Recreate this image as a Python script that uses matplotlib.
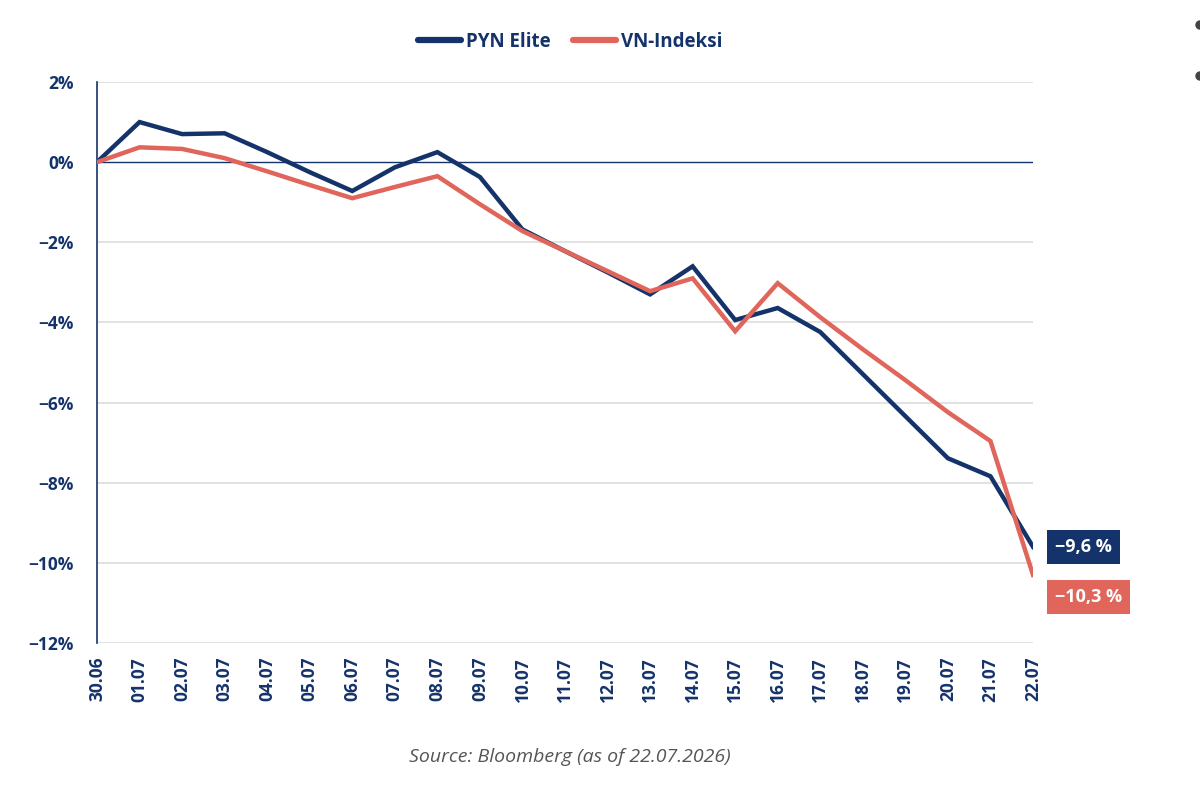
import matplotlib
matplotlib.use("Agg")
import matplotlib.pyplot as plt
from matplotlib.patches import Ellipse

dates = ["30.06", "01.07", "02.07", "03.07", "04.07", "05.07", "06.07", "07.07",
         "08.07", "09.07", "10.07", "11.07", "12.07", "13.07", "14.07", "15.07",
         "16.07", "17.07", "18.07", "19.07", "20.07", "21.07", "22.07"]
pyn_elite = [0.0, 1.0, 0.7, 0.72, 0.25, -0.25, -0.72, -0.13, 0.25, -0.37, -1.68,
             -2.22, -2.75, -3.3, -2.6, -3.94, -3.64, -4.24, -5.29, -6.34, -7.39,
             -7.84, -9.6]
vn_index = [0.0, 0.37, 0.33, 0.1, -0.23, -0.57, -0.9, -0.62, -0.35, -1.05, -1.72,
            -2.22, -2.72, -3.22, -2.9, -4.22, -3.02, -3.87, -4.67, -5.44, -6.24,
            -6.96, -10.3]
yticks = [2, 0, -2, -4, -6, -8, -10, -12]
series_names = ["PYN Elite", "VN-Indeksi"]
end_labels = ["−9,6 %", "−10,3 %"]
source = "Source: Bloomberg (as of 22.07.2026)"

NAVY = "#15336B"
RED = "#E0655B"
plt.rcParams['font.family'] = ['Open Sans', 'DejaVu Sans']

fig = plt.figure(figsize=(12, 7.89), dpi=100)
ax = fig.add_axes([97/1200, 1-643/789, (1033-97)/1200, (643-82)/789])

x = list(range(len(dates)))
for yv in yticks:
    if yv == 0:
        continue
    ax.axhline(yv, color="#DDDDDD", lw=1.2, zorder=0)
ax.axhline(0, color=NAVY, lw=1.0, zorder=1)

ax.plot(x, vn_index, color=RED, lw=3.2, label=series_names[1], zorder=3,
        solid_joinstyle="miter")
ax.plot(x, pyn_elite, color=NAVY, lw=3.2, label=series_names[0], zorder=2,
        solid_joinstyle="miter")

ax.set_xlim(0, len(dates)-1)
ax.set_ylim(-12, 2)
ax.set_yticks(yticks)
ax.set_yticklabels([f"{'−' if v < 0 else ''}{abs(v)}%" for v in yticks])
ax.set_xticks(x)
ax.set_xticklabels(dates, rotation=90)
for s in ["top", "right", "bottom"]:
    ax.spines[s].set_visible(False)
ax.spines["left"].set_color(NAVY)
ax.spines["left"].set_linewidth(1.2)
ax.tick_params(axis="both", length=0, labelcolor=NAVY, labelsize=12.5)
ax.tick_params(axis="y", pad=17)
ax.tick_params(axis="x", pad=10)
for lab in ax.get_xticklabels() + ax.get_yticklabels():
    lab.set_fontweight("bold")

# end value boxes
ax.annotate(end_labels[0], xy=(x[-1], pyn_elite[-1]), xytext=(16, 0),
            textcoords="offset points", va="center", ha="left", color="white",
            fontsize=13, fontweight="bold",
            bbox=dict(boxstyle="square,pad=0.45", fc=NAVY, ec="none"))
ax.annotate(end_labels[1], xy=(x[-1], vn_index[-1]), xytext=(16, -16),
            textcoords="offset points", va="center", ha="left", color="white",
            fontsize=13, fontweight="bold",
            bbox=dict(boxstyle="square,pad=0.45", fc=RED, ec="none"))

handles, labels = ax.get_legend_handles_labels()
order = [1, 0]
leg = fig.legend([handles[i] for i in order], [labels[i] for i in order],
                 loc="center", bbox_to_anchor=(570/1200, 1-42/789), ncol=2,
                 frameon=False, handlelength=2.3, handletextpad=0.25,
                 columnspacing=1.2, fontsize=13.5)
for t in leg.get_texts():
    t.set_color(NAVY)
    t.set_fontweight("bold")
for h in leg.legend_handles:
    h.set_linewidth(4.5)
    h.set_solid_capstyle("round")

fig.text(570/1200, 1-757/789, source, ha="center", va="center",
         fontsize=14, style="italic", color="#555555")

# cut-off bullet dots at right edge
for yy in [25, 76]:
    fig.add_artist(Ellipse((1200/1200, 1-yy/789), 8/1200, 8/789,
                           transform=fig.transFigure, color="#444444"))

fig.savefig("out.png", dpi=100)
